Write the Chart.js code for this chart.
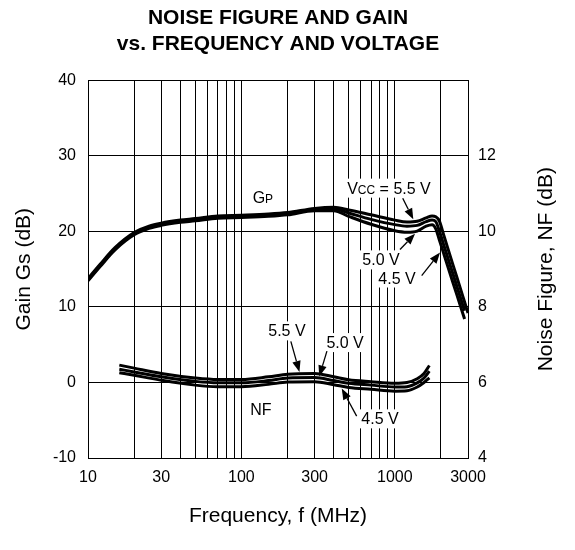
<!DOCTYPE html>
<html>
<head>
<meta charset="utf-8">
<script src="https://cdn.jsdelivr.net/npm/chart.js@4.4.1/dist/chart.umd.min.js"></script>
<style>
  html, body { margin: 0; padding: 0; background: #fff; }
</style>
</head>
<body>
<canvas id="myChart" width="575" height="550"></canvas>
<script>
// gain Gs (dB) against frequency (MHz) for Vcc = 5.5 / 5.0 / 4.5 V
const gainFreq = [10, 12, 15, 20, 25, 30, 40, 50, 70, 100, 150, 200, 300, 400, 500, 700, 1000, 1200, 1400, 1600, 1750, 1850, 1950, 2100, 2400, 2700, 2850, 3000];
const gain55 = [13.75, 15.65, 17.85, 19.85, 20.7, 21.1, 21.5, 21.7, 22.05, 22.15, 22.3, 22.5, 23.05, 23.2, 22.85, 22.2, 21.5, 21.25, 21.35, 21.8, 22.05, 21.95, 21.4, 19.3, 15.5, 12.2, 10.65, 9.2];
const gain50 = [13.6, 15.5, 17.7, 19.7, 20.55, 20.95, 21.35, 21.55, 21.9, 22.0, 22.15, 22.35, 22.9, 23.0, 22.45, 21.6, 20.9, 20.7, 20.8, 21.3, 21.5, 21.3, 20.1, 18.0, 14.3, 11.0, 9.5, null];
const gain45 = [13.45, 15.35, 17.55, 19.55, 20.4, 20.8, 21.2, 21.4, 21.75, 21.85, 22.0, 22.2, 22.75, 22.75, 22.0, 20.95, 20.1, 19.9, 20.05, 20.7, 20.9, 20.35, 18.9, 16.85, 13.15, 9.9, 8.4, null];

// noise figure NF (dB)
const nfFreq = [16, 20, 30, 50, 70, 100, 150, 200, 300, 400, 500, 700, 1000, 1200, 1400, 1550, 1680];
const nf55 = [6.46, 6.38, 6.24, 6.12, 6.08, 6.08, 6.15, 6.22, 6.24, 6.15, 6.07, 6.02, 5.98, 6.0, 6.1, 6.24, 6.45];
const nf50 = [6.35, 6.28, 6.15, 6.03, 5.99, 5.99, 6.05, 6.12, 6.13, 6.05, 5.98, 5.93, 5.88, 5.89, 5.99, 6.12, 6.30];
const nf45 = [6.26, 6.19, 6.06, 5.93, 5.89, 5.89, 5.95, 6.01, 6.02, 5.94, 5.87, 5.82, 5.77, 5.78, 5.88, 6.0, 6.12];

// axes
const freqGrid = [10, 20, 30, 40, 50, 60, 70, 80, 90, 100, 200, 300, 400, 500, 600, 700, 800, 900, 1000, 2000, 3000];
const freqLabels = [10, 30, 100, 300, 1000, 3000];
const nfTicks = [4, 6, 8, 10, 12];

const FONT = '"Liberation Sans", Arial, Helvetica, sans-serif';

// callouts, placed in data units (f in MHz, v in the units of the given axis)
const noteLabels = [
  { axis: 'y', f: 138, v: 24.5, parts: [['G', 16], ['P', 12]], box: false },
  { axis: 'y', f: 916, v: 25.8, parts: [['V', 16], ['CC', 12], [' = 5.5 V', 16]], box: true },
  { axis: 'y', f: 813, v: 16.3, parts: [['5.0 V', 16]], box: true },
  { axis: 'y', f: 1033, v: 13.9, parts: [['4.5 V', 16]], box: true },
  { axis: 'y2', f: 198, v: 7.38, parts: [['5.5 V', 16]], box: true },
  { axis: 'y2', f: 474, v: 7.07, parts: [['5.0 V', 16]], box: true },
  { axis: 'y2', f: 801, v: 5.05, parts: [['4.5 V', 16]], box: true },
  { axis: 'y2', f: 134, v: 5.31, parts: [['NF', 16]], box: false }
];
const noteArrows = [
  { axis: 'y', from: [1126, 24.4], to: [1320, 21.6] },
  { axis: 'y', from: [1081, 17.6], to: [1355, 19.7] },
  { axis: 'y', from: [1497, 14.15], to: [1972, 17.2] },
  { axis: 'y2', from: [210, 7.09], to: [239, 6.28] },
  { axis: 'y2', from: [361, 6.83], to: [322, 6.16] },
  { axis: 'y2', from: [564, 5.11], to: [451, 5.84] }
];

function pts(xs, ys) {
  return xs.map((x, i) => ({ x: x, y: ys[i] }));
}

function curve(label, xs, ys, axis) {
  return {
    label: label,
    data: pts(xs, ys),
    yAxisID: axis,
    borderColor: '#000',
    borderWidth: 3,
    pointRadius: 0,
    fill: false,
    cubicInterpolationMode: 'monotone'
  };
}

const notesPlugin = {
  id: 'notes',
  afterDatasetsDraw(chart) {
    const ctx = chart.ctx;
    const sx = chart.scales.x;
    ctx.save();
    noteLabels.forEach(n => {
      const cx = sx.getPixelForValue(n.f);
      const cy = chart.scales[n.axis].getPixelForValue(n.v);
      let w = 0;
      const widths = n.parts.map(p => {
        ctx.font = p[1] + 'px ' + FONT;
        const pw = ctx.measureText(p[0]).width;
        w += pw;
        return pw;
      });
      if (n.box) {
        ctx.fillStyle = '#fff';
        ctx.fillRect(cx - w / 2 - 3, cy - 9, w + 6, 19);
      }
      ctx.fillStyle = '#000';
      ctx.textBaseline = 'alphabetic';
      ctx.textAlign = 'left';
      let px = cx - w / 2;
      n.parts.forEach((p, i) => {
        ctx.font = p[1] + 'px ' + FONT;
        ctx.fillText(p[0], px, cy + 6);
        px += widths[i];
      });
    });
    ctx.strokeStyle = '#000';
    ctx.fillStyle = '#000';
    ctx.lineWidth = 1.3;
    noteArrows.forEach(a => {
      const sy = chart.scales[a.axis];
      const x0 = sx.getPixelForValue(a.from[0]), y0 = sy.getPixelForValue(a.from[1]);
      const x1 = sx.getPixelForValue(a.to[0]), y1 = sy.getPixelForValue(a.to[1]);
      const ang = Math.atan2(y1 - y0, x1 - x0);
      const len = 11, half = 4.2;
      const bx = x1 - len * Math.cos(ang), by = y1 - len * Math.sin(ang);
      ctx.beginPath();
      ctx.moveTo(x0, y0);
      ctx.lineTo(bx, by);
      ctx.stroke();
      ctx.beginPath();
      ctx.moveTo(x1, y1);
      ctx.lineTo(bx + half * Math.sin(ang), by - half * Math.cos(ang));
      ctx.lineTo(bx - half * Math.sin(ang), by + half * Math.cos(ang));
      ctx.closePath();
      ctx.fill();
    });
    ctx.restore();
  },
  afterDraw(chart) {
    // right-hand axis title, reading bottom to top like the left one
    const ctx = chart.ctx;
    const area = chart.chartArea;
    ctx.save();
    ctx.translate(546, (area.top + area.bottom) / 2);
    ctx.rotate(-Math.PI / 2);
    ctx.font = '21px ' + FONT;
    ctx.fillStyle = '#000';
    ctx.textAlign = 'center';
    ctx.textBaseline = 'middle';
    ctx.fillText('Noise Figure, NF (dB)', 0, 0);
    ctx.restore();
  }
};

const ctx = document.getElementById('myChart').getContext('2d');
const myChart = new Chart(ctx, {
  type: 'line',
  data: {
    datasets: [
      curve('Gp 5.5 V', gainFreq, gain55, 'y'),
      curve('Gp 5.0 V', gainFreq, gain50, 'y'),
      curve('Gp 4.5 V', gainFreq, gain45, 'y'),
      curve('NF 5.5 V', nfFreq, nf55, 'y2'),
      curve('NF 5.0 V', nfFreq, nf50, 'y2'),
      curve('NF 4.5 V', nfFreq, nf45, 'y2')
    ]
  },
  options: {
    responsive: false,
    animation: false,
    layout: { padding: 0 },
    plugins: {
      legend: { display: false },
      tooltip: { enabled: false },
      title: {
        display: true,
        fullSize: false,
        text: ['NOISE FIGURE AND GAIN', 'vs. FREQUENCY AND VOLTAGE'],
        color: '#000',
        font: { family: FONT, size: 21, weight: 'bold', lineHeight: 1.2 },
        padding: { top: 6, bottom: 24 }
      }
    },
    scales: {
      x: {
        type: 'logarithmic',
        min: 10,
        max: 3000,
        afterBuildTicks: s => { s.ticks = freqGrid.map(v => ({ value: v })); },
        afterFit: s => { s.height = 92; },
        grid: { color: '#000', lineWidth: 1, drawTicks: false },
        border: { color: '#000', width: 1 },
        ticks: {
          autoSkip: false,
          maxRotation: 0,
          padding: 10,
          color: '#000',
          font: { family: FONT, size: 16 },
          callback: v => freqLabels.includes(v) ? String(v) : ''
        },
        title: {
          display: true,
          text: 'Frequency, f (MHz)',
          color: '#000',
          font: { family: FONT, size: 21 },
          padding: { top: 0, bottom: 21 }
        }
      },
      y: {
        position: 'left',
        min: -10,
        max: 40,
        afterFit: s => { s.width = 88; },
        grid: { color: '#000', lineWidth: 1, drawTicks: false },
        border: { color: '#000', width: 1 },
        ticks: {
          stepSize: 10,
          padding: 12,
          color: '#000',
          font: { family: FONT, size: 16 }
        },
        title: {
          display: true,
          text: 'Gain Gs (dB)',
          color: '#000',
          font: { family: FONT, size: 21 },
          padding: { top: 12, bottom: 0 }
        }
      },
      y2: {
        position: 'right',
        min: 4,
        max: 14,
        afterBuildTicks: s => { s.ticks = nfTicks.map(v => ({ value: v })); },
        afterFit: s => { s.width = 107; },
        grid: { display: false, drawTicks: false },
        border: { color: '#000', width: 1 },
        ticks: {
          padding: 10,
          color: '#000',
          font: { family: FONT, size: 16 }
        }
      }
    }
  },
  plugins: [notesPlugin]
});
</script>
</body>
</html>
